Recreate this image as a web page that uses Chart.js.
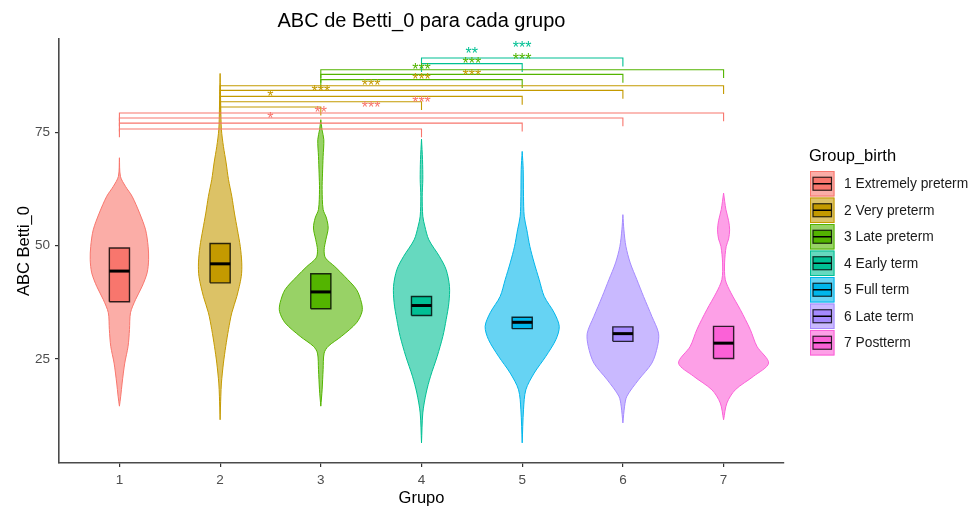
<!DOCTYPE html>
<html>
<head>
<meta charset="utf-8">
<script src="https://cdn.jsdelivr.net/npm/chart.js@4.4.1/dist/chart.umd.min.js"></script>
<style>
  html, body { margin: 0; padding: 0; background: #fff; }
</style>
</head>
<body>
<canvas id="violinChart" width="973" height="509"></canvas>
<script>
// groups and labels
const groups = [1, 2, 3, 4, 5, 6, 7];
const groupNames = ['1 Extremely preterm', '2 Very preterm', '3 Late preterm', '4 Early term', '5 Full term', '6 Late term', '7 Postterm'];
const groupColors = ['#F8766D', '#C49A00', '#53B400', '#00C094', '#00B6EB', '#A58AFF', '#FB61D7'];
const xTicks = [1, 2, 3, 4, 5, 6, 7];
const yTicks = [25, 50, 75];

// box: lower hinge, median, upper hinge
const boxLow = [37.65, 41.8, 36.1, 34.6, 31.7, 28.9, 25.1];
const boxMed = [44.4, 46.0, 39.8, 36.8, 33.1, 30.6, 28.5];
const boxHigh = [49.5, 50.5, 43.8, 38.8, 34.2, 32.1, 32.2];

// violin outline per group: [value, half width in group units], top to bottom
const violinShapes = [
    [[69.4, 0], [65.3, 0.01], [63.1, 0.06], [60.9, 0.126], [57.2, 0.2], [53.5, 0.26], [49.85, 0.285], [46.9, 0.29], [44.0, 0.275], [41.0, 0.225], [38.1, 0.16], [35.2, 0.11], [31.5, 0.1], [27.8, 0.086], [24.1, 0.053], [19.7, 0.027], [16.8, 0.013], [14.6, 0]],
    [[88.0, 0], [80.0, 0.007], [75.6, 0.013], [71.9, 0.033], [68.25, 0.06], [64.6, 0.083], [60.9, 0.116], [57.2, 0.142], [53.5, 0.172], [49.85, 0.2], [46.2, 0.215], [43.2, 0.21], [38.8, 0.166], [35.2, 0.116], [31.5, 0.083], [27.8, 0.056], [24.1, 0.033], [19.7, 0.013], [16.8, 0.007], [11.6, 0]],
    [[77.8, 0], [75.6, 0.012], [73.4, 0.03], [69.7, 0.023], [66.0, 0.017], [62.4, 0.013], [58.0, 0.023], [56.1, 0.056], [53.9, 0.073], [51.3, 0.05], [49.1, 0.033], [47.3, 0.046], [45.4, 0.139], [43.2, 0.238], [40.3, 0.355], [37.4, 0.404], [35.5, 0.41], [33.0, 0.355], [30.0, 0.205], [27.8, 0.073], [26.3, 0.033], [22.65, 0.023], [18.2, 0.013], [14.6, 0]],
    [[73.5, 0], [69.0, 0.01], [64.6, 0.013], [60.9, 0.007], [56.5, 0.013], [54.3, 0.033], [51.3, 0.073], [47.6, 0.179], [44.7, 0.245], [41.0, 0.278], [37.4, 0.272], [33.7, 0.245], [30.0, 0.212], [25.6, 0.156], [21.2, 0.09], [17.5, 0.046], [13.1, 0.013], [6.5, 0]],
    [[70.8, 0], [66.8, 0.01], [60.9, 0.013], [56.5, 0.02], [53.5, 0.046], [49.85, 0.076], [46.2, 0.119], [42.5, 0.169], [38.8, 0.219], [35.2, 0.318], [32.2, 0.368], [29.3, 0.335], [25.6, 0.235], [21.9, 0.119], [18.2, 0.036], [13.8, 0.013], [6.5, 0]],
    [[56.85, 0], [53.5, 0.01], [49.85, 0.03], [46.2, 0.073], [42.5, 0.139], [38.8, 0.205], [34.4, 0.288], [30.7, 0.354], [27.8, 0.344], [24.1, 0.288], [20.4, 0.155], [16.8, 0.04], [14.6, 0.017], [10.9, 0]],
    [[61.6, 0], [58.0, 0.023], [55.5, 0.05], [53.5, 0.06], [51.5, 0.05], [49.85, 0.026], [46.2, 0.01], [42.5, 0.017], [39.6, 0.073], [35.9, 0.166], [31.5, 0.265], [27.8, 0.331], [24.1, 0.447], [21.2, 0.298], [18.2, 0.116], [15.3, 0.033], [11.6, 0]]
];

// pairwise comparisons
const compFrom = [1, 1, 1, 1, 2, 2, 2, 2, 2, 3, 3, 3, 4, 4];
const compTo = [4, 5, 6, 7, 3, 4, 5, 6, 7, 5, 6, 7, 5, 6];
const compY = [75.75, 77.03, 78.18, 79.28, 80.6, 81.77, 82.94, 84.27, 85.3, 86.63, 87.8, 88.83, 90.16, 91.41];
const compLabel = ['*', '**', '***', '***', '*', '***', '***', '***', '***', '***', '***', '***', '**', '***'];

const FONT = '"Liberation Sans", Arial, sans-serif';
const boxHalf = 0.1;
const tip = 1.85;

function alpha(hex, a) {
    const n = parseInt(hex.slice(1), 16);
    return `rgba(${(n >> 16) & 255}, ${(n >> 8) & 255}, ${n & 255}, ${a})`;
}

const datasets = [];

// violins
violinShapes.forEach((shape, i) => {
    const g = groups[i];
    const right = shape.map(([v, w]) => ({ x: g + w, y: v }));
    const left = shape.slice().reverse().map(([v, w]) => ({ x: g - w, y: v }));
    datasets.push({
        data: right.concat(left),
        borderColor: groupColors[i],
        backgroundColor: alpha(groupColors[i], 0.6),
        borderWidth: 1,
        fill: 'shape',
        tension: 0.3,
        order: 4
    });
});

// boxes + medians
groups.forEach((g, i) => {
    datasets.push({
        data: [
            { x: g - boxHalf, y: boxLow[i] }, { x: g + boxHalf, y: boxLow[i] },
            { x: g + boxHalf, y: boxHigh[i] }, { x: g - boxHalf, y: boxHigh[i] },
            { x: g - boxHalf, y: boxLow[i] }
        ],
        borderColor: 'rgba(0,0,0,0.8)',
        backgroundColor: groupColors[i],
        borderWidth: 1.4,
        fill: 'shape',
        tension: 0,
        order: 3
    });
    datasets.push({
        data: [{ x: g - boxHalf, y: boxMed[i] }, { x: g + boxHalf, y: boxMed[i] }],
        borderColor: '#000',
        borderWidth: 3,
        borderCapStyle: 'butt',
        fill: false,
        tension: 0,
        order: 2
    });
});

// significance brackets
compFrom.forEach((a, i) => {
    const b = compTo[i];
    datasets.push({
        data: [
            { x: a, y: compY[i] - tip }, { x: a, y: compY[i] },
            { x: b, y: compY[i] }, { x: b, y: compY[i] - tip }
        ],
        borderColor: groupColors[a - 1],
        borderWidth: 1.1,
        fill: false,
        tension: 0,
        order: 1
    });
});

const bracketLabels = {
    id: 'bracketLabels',
    afterDatasetsDraw(chart) {
        const { ctx, scales: { x, y } } = chart;
        ctx.save();
        ctx.font = `16px ${FONT}`;
        ctx.textAlign = 'center';
        ctx.textBaseline = 'alphabetic';
        compFrom.forEach((a, i) => {
            ctx.fillStyle = groupColors[a - 1];
            ctx.fillText(compLabel[i], x.getPixelForValue((a + compTo[i]) / 2), y.getPixelForValue(compY[i]) - 5);
        });
        ctx.restore();
    }
};

const sideLegend = {
    id: 'sideLegend',
    afterDraw(chart) {
        const { ctx, chartArea } = chart;
        const left = chartArea.right + 26;
        const keyW = 24.5, keyH = 26.5;
        const top = 171;
        ctx.save();
        ctx.fillStyle = '#000';
        ctx.font = `16.5px ${FONT}`;
        ctx.textBaseline = 'middle';
        ctx.textAlign = 'left';
        ctx.fillText('Group_birth', left - 1, 156);
        groupNames.forEach((name, i) => {
            const ky = top + i * keyH;
            ctx.fillStyle = alpha(groupColors[i], 0.6);
            ctx.fillRect(left, ky, keyW, keyH - 1);
            ctx.strokeStyle = groupColors[i];
            ctx.lineWidth = 1;
            ctx.strokeRect(left + 0.5, ky + 0.5, keyW - 1, keyH - 2);
            const cy = ky + (keyH - 1) / 2;
            ctx.fillStyle = groupColors[i];
            ctx.fillRect(left + 3, cy - 6.5, keyW - 6, 13);
            ctx.strokeStyle = 'rgba(0,0,0,0.8)';
            ctx.lineWidth = 1.2;
            ctx.strokeRect(left + 3, cy - 6.5, keyW - 6, 13);
            ctx.beginPath();
            ctx.moveTo(left + 3, cy);
            ctx.lineTo(left + keyW - 3, cy);
            ctx.lineWidth = 1.5;
            ctx.strokeStyle = '#000';
            ctx.stroke();
            ctx.fillStyle = '#1a1a1a';
            ctx.font = `13.8px ${FONT}`;
            ctx.fillText(name, left + 34, cy + 0.5);
        });
        ctx.restore();
    }
};

Chart.defaults.font.family = FONT;

const ctx = document.getElementById('violinChart').getContext('2d');
new Chart(ctx, {
    type: 'line',
    data: { datasets },
    plugins: [bracketLabels, sideLegend],
    options: {
        responsive: false,
        animation: false,
        events: [],
        layout: { padding: { top: 0, right: 189, bottom: 0, left: 0 } },
        elements: { point: { radius: 0, hitRadius: 0 } },
        plugins: {
            legend: { display: false },
            tooltip: { enabled: false },
            title: {
                display: true,
                text: 'ABC de Betti_0 para cada grupo',
                fullSize: false,
                color: '#000',
                font: { size: 20, weight: 'normal' },
                padding: { top: 9, bottom: 6 }
            }
        },
        scales: {
            x: {
                type: 'linear',
                min: 0.4,
                max: 7.6,
                afterBuildTicks: (scale) => { scale.ticks = xTicks.map(v => ({ value: v })); },
                afterFit: (scale) => { scale.height = 46; },
                ticks: { color: '#4d4d4d', font: { size: 13.5 }, padding: 5, callback: v => String(v) },
                grid: { display: true, drawOnChartArea: false, drawTicks: true, tickLength: 4, color: '#333', lineWidth: 1.2 },
                border: { display: true, color: '#4a4a4a', width: 1.6 },
                title: { display: true, text: 'Grupo', color: '#000', font: { size: 16.5 }, padding: { top: 0, bottom: 1 } }
            },
            y: {
                type: 'linear',
                min: 2.06,
                max: 95.6,
                afterBuildTicks: (scale) => { scale.ticks = yTicks.map(v => ({ value: v })); },
                afterFit: (scale) => { scale.width = 59; },
                ticks: { color: '#4d4d4d', font: { size: 13.5 }, padding: 5, callback: v => String(v) },
                grid: { display: true, drawOnChartArea: false, drawTicks: true, tickLength: 4, color: '#333', lineWidth: 1.2 },
                border: { display: true, color: '#4a4a4a', width: 1.6 },
                title: { display: true, text: 'ABC Betti_0', color: '#000', font: { size: 16.5 }, padding: { top: 15, bottom: 0 } }
            }
        }
    }
});
</script>
</body>
</html>
